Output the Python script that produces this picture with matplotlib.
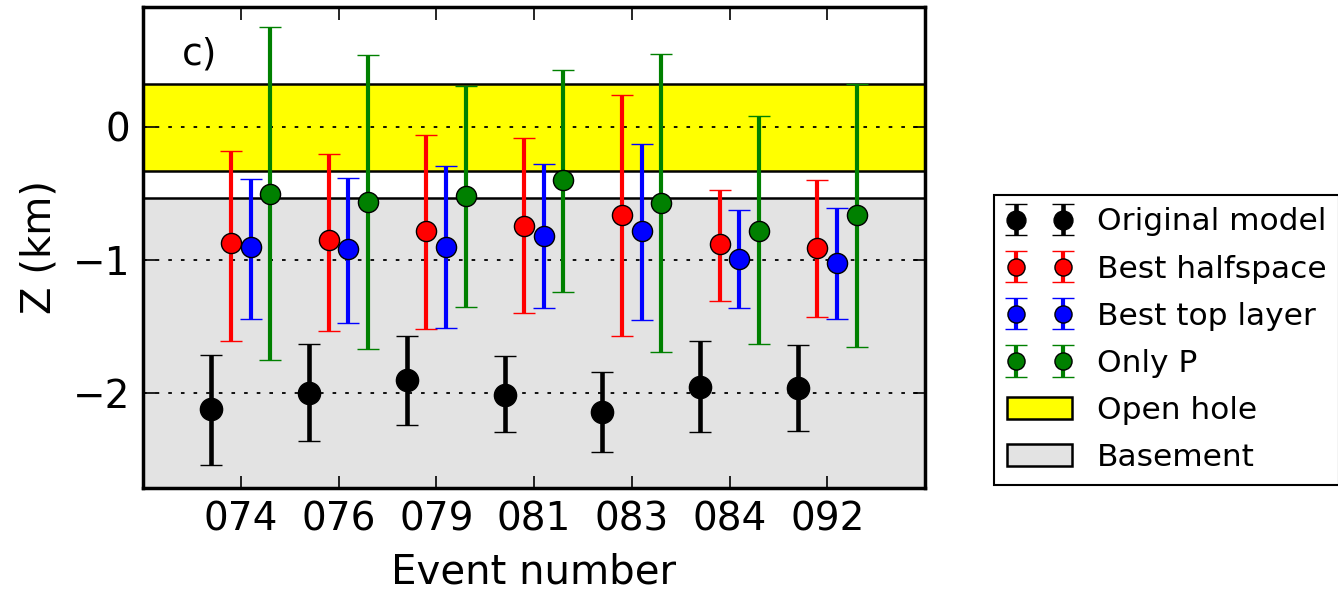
import numpy as np
import matplotlib
matplotlib.use('Agg')
import matplotlib.pyplot as plt

plt.rcParams['font.family'] = ['DejaVu Sans']

# event labels and depths (km)
events = ['074', '076', '079', '081', '083', '084', '092']

orig_z = [-2.12, -2.00, -1.90, -2.01, -2.14, -1.95, -1.96]
orig_top = [-1.71, -1.63, -1.57, -1.72, -1.84, -1.61, -1.64]
orig_bot = [-2.54, -2.36, -2.24, -2.29, -2.44, -2.29, -2.28]

half_z = [-0.87, -0.85, -0.78, -0.74, -0.66, -0.88, -0.91]
half_top = [-0.18, -0.20, -0.06, -0.08, 0.24, -0.47, -0.40]
half_bot = [-1.61, -1.53, -1.52, -1.40, -1.57, -1.31, -1.43]

layer_z = [-0.90, -0.92, -0.90, -0.82, -0.78, -0.99, -1.02]
layer_top = [-0.39, -0.38, -0.29, -0.28, -0.13, -0.62, -0.61]
layer_bot = [-1.44, -1.47, -1.51, -1.36, -1.45, -1.36, -1.44]

onlyp_z = [-0.50, -0.56, -0.52, -0.40, -0.57, -0.78, -0.66]
onlyp_top = [0.75, 0.54, 0.31, 0.43, 0.55, 0.08, 0.32]
onlyp_bot = [-1.75, -1.67, -1.35, -1.24, -1.69, -1.63, -1.65]

open_hole = (-0.33, 0.32)
basement_top = -0.53

fig = plt.figure(figsize=(13.38, 5.91), dpi=100)
ax = fig.add_axes([143 / 1338, 103 / 591, 782 / 1338, 481 / 591])

x = np.arange(1, len(events) + 1)

# background zones
hole = ax.axhspan(open_hole[0], open_hole[1], facecolor='yellow', edgecolor='k', lw=1.8, zorder=0)
base = ax.axhspan(-5, basement_top, facecolor='#e3e3e3', edgecolor='k', lw=1.8, zorder=0)

for yv in [0, -1, -2]:
    ax.axhline(yv, color='k', lw=1.3, linestyle=(0, (2, 5)), zorder=1)


def draw(xpos, z, top, bot, color, lw, ms, label):
    z = np.array(z)
    err = [z - np.array(bot), np.array(top) - z]
    return ax.errorbar(xpos, z, yerr=err, fmt='o', color=color, ecolor=color,
                       elinewidth=lw, capthick=lw, capsize=8, markersize=ms,
                       markeredgecolor='k', markeredgewidth=1.0, label=label, zorder=3)


h1 = draw(x - 0.3, orig_z, orig_top, orig_bot, 'k', 3.3, 16, 'Original model')
h2 = draw(x - 0.1, half_z, half_top, half_bot, 'r', 3.0, 14.5, 'Best halfspace')
h3 = draw(x + 0.1, layer_z, layer_top, layer_bot, 'b', 3.0, 14.5, 'Best top layer')
h4 = draw(x + 0.3, onlyp_z, onlyp_top, onlyp_bot, 'g', 3.0, 14.5, 'Only P')

ax.set_xlim(0, 8)
ax.set_ylim(-2.71, 0.9)
ax.set_xticks(x)
ax.set_xticklabels(events)
ax.set_yticks([0, -1, -2])
ax.set_yticklabels(['0', '\u22121', '\u22122'])
ax.tick_params(direction='in', length=9, width=1.2, top=True, right=True, labelsize=28, pad=9)
for s in ax.spines.values():
    s.set_linewidth(2.5)

ax.set_xlabel('Event number', fontsize=29, labelpad=10)
ax.set_ylabel('Z (km)', fontsize=29, labelpad=10)
ax.text(0.05, 0.88, 'c)', transform=ax.transAxes, fontsize=27, va='baseline', ha='left')

leg = ax.legend([h1, h2, h3, h4, hole, base],
                ['Original model', 'Best halfspace', 'Best top layer', 'Only P', 'Open hole', 'Basement'],
                loc='upper left', bbox_to_anchor=(994 / 1338, 1 - 195 / 591), bbox_transform=fig.transFigure,
                numpoints=2, fontsize=22.5, handlelength=2.1, handletextpad=0.8, labelspacing=0.58,
                borderaxespad=0, borderpad=0.4, markerscale=0.85, fancybox=False, framealpha=1,
                edgecolor='k')
leg.get_frame().set_linewidth(1.5)

fig.savefig('out.png', dpi=100)
